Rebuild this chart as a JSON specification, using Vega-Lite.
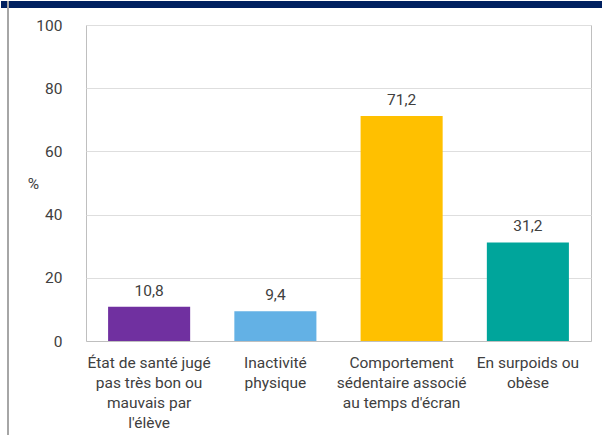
{
  "$schema": "https://vega.github.io/schema/vega-lite/v6.json",
  "padding": 0,
  "spacing": 17,
  "bounds": "flush",
  "background": "white",
  "config": {
    "locale": {"number": {"decimal": ",", "thousands": " ", "grouping": [3], "currency": ["", " €"]}},
    "font": "Roboto",
    "view": {"stroke": null}
  },
  "vconcat": [
    {
      "width": 602,
      "height": 7,
      "view": {"fill": "#002060", "stroke": null},
      "data": {"values": [{"x": 7, "y": 7, "y2": -430}]},
      "mark": {"type": "rule", "color": "#a6a6a6", "strokeWidth": 2},
      "encoding": {
        "x": {"field": "x", "type": "quantitative", "scale": {"domain": [0, 602]}, "axis": null},
        "y": {"field": "y", "type": "quantitative", "scale": {"domain": [0, 7]}, "axis": null},
        "y2": {"field": "y2"}
      }
    },
    {
      "spacing": 18,
      "hconcat": [
        {
          "width": 7,
          "height": 10,
          "data": {"values": [{"x": 0}]},
          "mark": {"type": "rule", "opacity": 0},
          "encoding": {}
        },
        {
          "width": 505,
          "height": 316,
          "view": {"stroke": "#bfbfbf"},
          "data": {
            "values": [
              {"categorie": "État de santé jugé|pas très bon ou|mauvais par|l'élève", "pourcentage": 10.8},
              {"categorie": "Inactivité|physique", "pourcentage": 9.4},
              {"categorie": "Comportement|sédentaire associé|au temps d'écran", "pourcentage": 71.2},
              {"categorie": "En surpoids ou|obèse", "pourcentage": 31.2}
            ]
          },
          "encoding": {
            "x": {
              "field": "categorie",
              "type": "nominal",
              "sort": null,
              "scale": {"paddingInner": 0.35, "paddingOuter": 0.175},
              "axis": {
                "title": null,
                "labelAngle": 0,
                "labelExpr": "split(datum.label, '|')",
                "labelFontSize": 15.5,
                "labelLineHeight": 20,
                "labelColor": "#404040",
                "labelPadding": 14,
                "labelLimit": 0,
                "ticks": false,
                "domainColor": "#bfbfbf"
              }
            },
            "y": {
              "field": "pourcentage",
              "type": "quantitative",
              "scale": {"domain": [0, 100]},
              "axis": {
                "values": [0, 20, 40, 60, 80, 100],
                "title": "%",
                "titleAngle": 0,
                "titleX": -53,
                "titleY": 158,
                "titleAlign": "center",
                "titleBaseline": "middle",
                "titleFontWeight": "normal",
                "titleFontSize": 15.5,
                "titleColor": "#404040",
                "labelFontSize": 15.5,
                "labelColor": "#404040",
                "labelPadding": 24,
                "ticks": false,
                "domain": false,
                "gridColor": "#dedede"
              }
            }
          },
          "layer": [
            {
              "mark": {"type": "bar"},
              "encoding": {
                "color": {
                  "field": "categorie",
                  "type": "nominal",
                  "sort": null,
                  "scale": {"range": ["#7030A0", "#63B1E5", "#FFC000", "#00A59B"]},
                  "legend": null
                }
              }
            },
            {
              "mark": {"type": "text", "baseline": "middle", "dy": -16, "fontSize": 15.5, "color": "#404040"},
              "encoding": {
                "text": {"field": "pourcentage", "type": "quantitative", "format": ".1f"}
              }
            }
          ]
        }
      ]
    }
  ]
}
